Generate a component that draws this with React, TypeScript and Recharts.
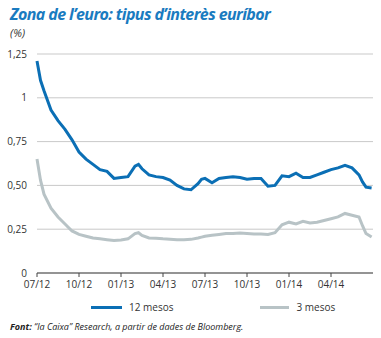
import React from "react";
import {
  LineChart,
  Line,
  XAxis,
  YAxis,
  CartesianGrid,
} from "recharts";

// months since 07/2012
const months = [
  0, 0.25, 0.5, 1, 1.5, 2, 2.5, 3, 3.5, 4, 4.5, 5, 5.5, 6, 6.5, 7, 7.25, 7.5,
  8, 8.5, 9, 9.5, 10, 10.5, 11, 11.5, 11.75, 12, 12.5, 13, 13.5, 14, 14.5, 15,
  15.5, 16, 16.5, 17, 17.5, 18, 18.5, 19, 19.5, 20, 20.5, 21, 21.5, 22, 22.5,
  23, 23.25, 23.5, 23.9,
];

const euribor12m = [
  1.21, 1.1, 1.04, 0.93, 0.87, 0.82, 0.76, 0.69, 0.65, 0.62, 0.59, 0.58, 0.54,
  0.545, 0.55, 0.61, 0.62, 0.595, 0.56, 0.55, 0.545, 0.53, 0.5, 0.48, 0.475,
  0.51, 0.535, 0.54, 0.515, 0.54, 0.545, 0.55, 0.545, 0.535, 0.54, 0.54, 0.495,
  0.5, 0.555, 0.55, 0.57, 0.545, 0.545, 0.56, 0.575, 0.59, 0.6, 0.615, 0.6,
  0.56, 0.52, 0.49, 0.485,
];

const euribor3m = [
  0.65, 0.53, 0.45, 0.37, 0.32, 0.28, 0.24, 0.22, 0.21, 0.2, 0.195, 0.19, 0.185,
  0.188, 0.195, 0.225, 0.23, 0.215, 0.2, 0.198, 0.195, 0.193, 0.19, 0.19, 0.192,
  0.2, 0.205, 0.21, 0.215, 0.22, 0.225, 0.225, 0.228, 0.225, 0.222, 0.222, 0.22,
  0.23, 0.275, 0.29, 0.28, 0.295, 0.285, 0.29, 0.3, 0.31, 0.32, 0.34, 0.33,
  0.32, 0.27, 0.225, 0.205,
];

const xTicks = [0, 3, 6, 9, 12, 15, 18, 21];
const xTickLabels = ["07/12", "10/12", "01/13", "04/13", "07/13", "10/13", "01/14", "04/14"];
const yTicks = [0, 0.25, 0.5, 0.75, 1, 1.25];

const BLUE = "#0b6fb5";
const GREY = "#b8c3c6";
const FONT = "'Open Sans', 'DejaVu Sans', sans-serif";

const data = months.map((m, i) => ({
  m,
  y12: euribor12m[i],
  y3: euribor3m[i],
}));

const fmtY = (v: number) => {
  if (v === 0) return "0";
  if (v === 1) return "1";
  return v.toFixed(2).replace(".", ",");
};

export default function App() {
  return (
    <div
      style={{
        position: "absolute",
        left: 0,
        top: 0,
        width: 381,
        height: 338,
        background: "#fff",
        fontFamily: FONT,
        overflow: "hidden",
      }}
    >
      <div
        style={{
          position: "absolute",
          left: 10,
          top: 3,
          fontSize: 16,
          fontWeight: 700,
          fontStyle: "italic",
          color: "#1a7bc0",
          letterSpacing: -0.6,
          whiteSpace: "nowrap",
        }}
      >
        Zona de l’euro: tipus d’interès euríbor
      </div>
      <div
        style={{
          position: "absolute",
          left: 10,
          top: 25,
          fontSize: 11,
          fontStyle: "italic",
          color: "#333",
        }}
      >
        (%)
      </div>
      <div style={{ position: "absolute", left: 0, top: 0 }}>
        <LineChart
          width={381}
          height={300}
          data={data}
          margin={{ top: 54, right: 8, bottom: 0, left: 0 }}
        >
          <CartesianGrid horizontal vertical={false} stroke="#c9c9c9" strokeWidth={1} />
          <XAxis
            dataKey="m"
            type="number"
            domain={[0, 24]}
            ticks={xTicks}
            tickFormatter={(v: number) => xTickLabels[xTicks.indexOf(v)] ?? ""}
            height={27}
            tickSize={4}
            tickMargin={4}
            axisLine={{ stroke: "#444" }}
            tickLine={{ stroke: "#444" }}
            tick={{ fill: "#333", fontSize: 10, fontFamily: FONT }}
            interval={0}
          />
          <YAxis
            type="number"
            domain={[0, 1.25]}
            ticks={yTicks}
            width={37}
            axisLine={false}
            tickLine={false}
            tickSize={6}
            tickMargin={4}
            tickFormatter={fmtY}
            tick={{ fill: "#333", fontSize: 10, fontFamily: FONT }}
            interval={0}
          />
          <Line
            dataKey="y3"
            type="linear"
            stroke={GREY}
            strokeWidth={3}
            dot={false}
            isAnimationActive={false}
          />
          <Line
            dataKey="y12"
            type="linear"
            stroke={BLUE}
            strokeWidth={3}
            dot={false}
            isAnimationActive={false}
          />
        </LineChart>
      </div>
      <div
        style={{
          position: "absolute",
          left: 91,
          top: 300,
          display: "flex",
          alignItems: "center",
          fontSize: 10,
          color: "#333",
        }}
      >
        <span style={{ display: "inline-block", width: 31, height: 3, background: BLUE, marginRight: 7 }} />
        <span>12 mesos</span>
        <span style={{ display: "inline-block", width: 29, height: 3, background: GREY, marginLeft: 87, marginRight: 7 }} />
        <span>3 mesos</span>
      </div>
      <div
        style={{
          position: "absolute",
          left: 10,
          top: 320,
          fontSize: 9,
          fontStyle: "italic",
          color: "#222",
          whiteSpace: "nowrap",
        }}
      >
        <b>Font:</b> “la Caixa” Research, a partir de dades de Bloomberg.
      </div>
    </div>
  );
}
